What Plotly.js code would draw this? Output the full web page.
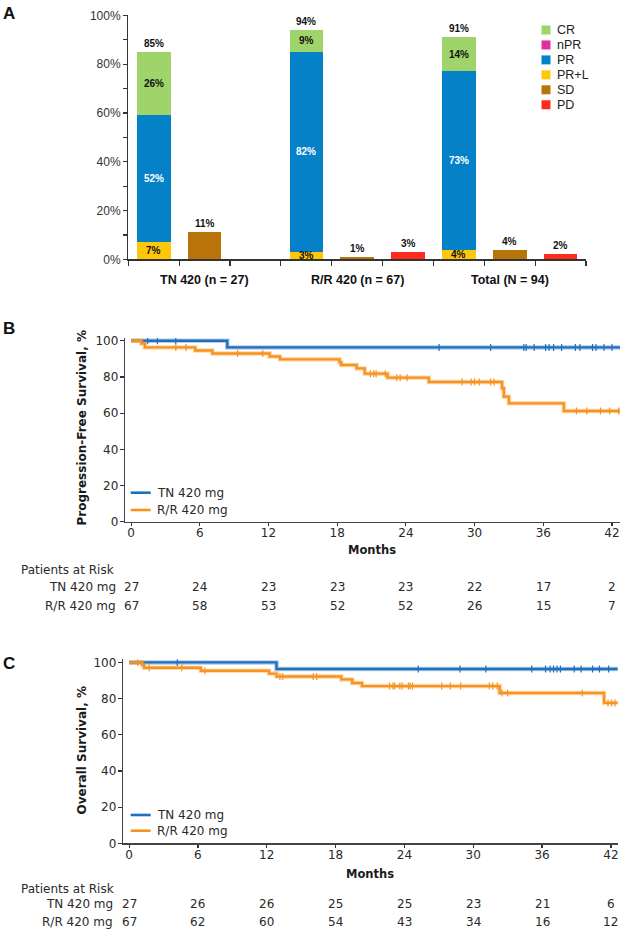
<!DOCTYPE html>
<html><head><meta charset="utf-8">
<script src="https://cdn.plot.ly/plotly-3.0.1.min.js"></script>
<style>html,body{margin:0;padding:0;background:#fff}#chart{width:623px;height:930px}</style>
</head><body><div id="chart"></div>
<script>
// ---------- Panel A data ----------
const groups = ['TN 420 (n = 27)', 'R/R 420 (n = 67)', 'Total (N = 94)'];
const crPct  = [26, 9, 14];
const nprPct = [0, 0, 0];
const prPct  = [52, 82, 73];
const prlPct = [7, 3, 4];
const sdPct  = [11, 1, 4];
const pdPct  = [0, 3, 2];
const orrPct = [85, 94, 91];
const pctTickVals = [0,10,20,30,40,50,60,70,80,90,100];
const pctTickText = ['0%','','20%','','40%','','60%','','80%','','100%'];

// ---------- Panel B data (PFS) ----------
const tnPfsT = [0, 8.4, 42.8];
const tnPfsS = [100, 96.3, 96.3];
const tnPfsCens = [1.45, 2.3, 3.9, 26.9, 31.4, 34.3, 34.5, 35.2, 36.2, 36.5, 36.9, 37.6, 38.8, 39.2, 40.3, 40.6, 41.3, 42.0];
const rrPfsT = [0, 0.9, 1.2, 5.6, 7.1, 12.1, 13.0, 18.2, 18.35, 19.7, 20.4, 22.4, 26.0, 32.4, 32.55, 33.0, 37.8, 42.8];
const rrPfsS = [100, 98.5, 96.3, 94.6, 92.9, 91.3, 89.7, 88.1, 86.6, 84.7, 81.8, 79.6, 77.2, 73.7, 69.1, 65.4, 61.2, 61.2];
const rrPfsCens = [3.9, 4.8, 9.3, 11.5, 20.9, 21.2, 21.4, 22.2, 23.2, 23.5, 24.1, 28.9, 29.7, 30.0, 30.4, 31.4, 31.7, 38.9, 39.8, 41.0, 41.8, 42.6];
const pfsRiskTN = [27, 24, 23, 23, 23, 22, 17, 2];
const pfsRiskRR = [67, 58, 53, 52, 52, 26, 15, 7];

// ---------- Panel C data (OS) ----------
const tnOsT = [0, 12.85, 42.6];
const tnOsS = [100, 96.3, 96.3];
const tnOsCens = [4.2, 25.2, 28.85, 31.1, 35.1, 36.3, 36.7, 37.0, 37.3, 37.6, 38.8, 39.4, 40.4, 41.0, 41.8];
const rrOsT = [0, 1.15, 1.3, 6.25, 12.2, 12.85, 18.5, 19.45, 20.3, 32.3, 41.4, 42.6];
const rrOsS = [100, 98.5, 97.0, 95.4, 93.8, 92.2, 90.6, 88.6, 86.9, 83.1, 77.6, 77.6];
const rrOsCens = [0.75, 1.75, 4.6, 6.6, 13.15, 13.4, 16.05, 16.35, 22.7, 23.0, 23.15, 23.6, 23.8, 24.35, 24.5, 24.7, 27.25, 28.0, 28.9, 31.4, 31.7, 32.1, 32.5, 33.0, 39.5, 41.75, 42.05, 42.35];
const osRiskTN = [27, 26, 26, 25, 25, 23, 21, 6];
const osRiskRR = [67, 62, 60, 54, 43, 34, 16, 12];

const monthTicks = [0, 6, 12, 18, 24, 30, 36, 42];
const survTicks = [0, 20, 40, 60, 80, 100];
const seriesNames = ['TN 420 mg', 'R/R 420 mg'];

// ---------- styling ----------
const W = 623, H = 930;
const px = x => x / W;
const py = y => 1 - y / H;
const ARIAL = 'Arial, "Liberation Sans", sans-serif';
const GOTH = '"DejaVu Sans", "Open Sans", sans-serif';
const colCR = '#9fd46a', colNPR = '#e0309e', colPR = '#0581c8', colPRL = '#fec70a', colSD = '#b8740a', colPD = '#ff2b1c';
const colTN = '#1f6fbd', colRR = '#f7931e';

const traces = [];
// Panel A: slot index per group
const stackX = groups.map((g, i) => 3 * i);
const sdX = groups.map((g, i) => 3 * i + 1);
const pdX = groups.map((g, i) => 3 * i + 2);
const barW = 0.66;
function bar(name, x, y, color) {
  return {type: 'bar', name, x, y, width: barW, marker: {color, line: {width: 0}},
          xaxis: 'x', yaxis: 'y', showlegend: false, hoverinfo: 'skip'};
}
traces.push(bar('PR+L', stackX, prlPct, colPRL));
traces.push(bar('PR', stackX, prPct, colPR));
traces.push(bar('nPR', stackX, nprPct, colNPR));
traces.push(bar('CR', stackX, crPct, colCR));
traces.push(bar('SD', sdX, sdPct, colSD));
traces.push(bar('PD', pdX, pdPct, colPD));

// KM helpers
function stepAt(T, S, t) { let v = S[0]; for (let i = 0; i < T.length; i++) { if (T[i] <= t) v = S[i]; } return v; }
function km(T, S, cens, color, xa, ya) {
  return [
    {type: 'scatter', mode: 'lines', x: T, y: S, line: {shape: 'hv', color, width: 4.5}, opacity: 0.35,
     xaxis: xa, yaxis: ya, showlegend: false, hoverinfo: 'skip'},
    {type: 'scatter', mode: 'lines', x: T, y: S, line: {shape: 'hv', color, width: 2.4},
     xaxis: xa, yaxis: ya, showlegend: false, hoverinfo: 'skip'},
    {type: 'scatter', mode: 'markers', x: cens, y: cens.map(t => stepAt(T, S, t)),
     marker: {symbol: 'line-ns-open', size: 5, color, line: {color, width: 1.2}},
     xaxis: xa, yaxis: ya, showlegend: false, hoverinfo: 'skip'}
  ];
}
traces.push(...km(tnPfsT, tnPfsS, tnPfsCens, colTN, 'x2', 'y2'));
traces.push(...km(rrPfsT, rrPfsS, rrPfsCens, colRR, 'x2', 'y2'));
traces.push(...km(tnOsT, tnOsS, tnOsCens, colTN, 'x3', 'y3'));
traces.push(...km(rrOsT, rrOsS, rrOsCens, colRR, 'x3', 'y3'));

// ---------- annotations ----------
const ann = [];
const shapes = [];
// Panel letters
[['A', 13], ['B', 328], ['C', 663]].forEach(([t, y]) => ann.push({text: '<b>' + t + '</b>', xref: 'paper', yref: 'paper', x: px(9), y: py(y), xanchor: 'center', yanchor: 'middle', showarrow: false, font: {family: ARIAL, size: 17, color: '#111'}}));

// Panel A bar labels
const lblFont = c => ({family: ARIAL, size: 10, color: c});
groups.forEach((g, i) => {
  const segs = [[prlPct[i], '#111'], [prPct[i], '#fff'], [nprPct[i], '#fff'], [crPct[i], '#111']];
  let base = 0;
  segs.forEach(([v, c]) => {
    if (v > 0) ann.push({text: '<b>' + v + '%</b>', x: stackX[i], y: base + v / 2, xref: 'x', yref: 'y', showarrow: false, yanchor: 'middle', font: lblFont(c)});
    base += v;
  });
  ann.push({text: '<b>' + orrPct[i] + '%</b>', x: stackX[i], y: orrPct[i], xref: 'x', yref: 'y', showarrow: false, yanchor: 'bottom', yshift: 1, font: lblFont('#111')});
  if (sdPct[i] > 0) ann.push({text: '<b>' + sdPct[i] + '%</b>', x: sdX[i], y: sdPct[i], xref: 'x', yref: 'y', showarrow: false, yanchor: 'bottom', yshift: 1, font: lblFont('#111')});
  if (pdPct[i] > 0) ann.push({text: '<b>' + pdPct[i] + '%</b>', x: pdX[i], y: pdPct[i], xref: 'x', yref: 'y', showarrow: false, yanchor: 'bottom', yshift: 1, font: lblFont('#111')});
  ann.push({text: '<b>' + g + '</b>', x: sdX[i], y: py(279.5), xref: 'x', yref: 'paper', showarrow: false, yanchor: 'middle', font: {family: ARIAL, size: 12.5, color: '#111'}});
});
// Panel A legend
const legItems = [['CR', colCR], ['nPR', colNPR], ['PR', colPR], ['PR+L', colPRL], ['SD', colSD], ['PD', colPD]];
legItems.forEach(([n, c], k) => {
  const yc = 30 + 14.95 * k;
  shapes.push({type: 'rect', xref: 'paper', yref: 'paper', x0: px(541.5), x1: px(550.5), y0: py(yc + 4.5), y1: py(yc - 4.5), fillcolor: c, line: {width: 0}});
  ann.push({text: n, xref: 'paper', yref: 'paper', x: px(555.5), y: py(yc), xanchor: 'left', yanchor: 'middle', showarrow: false, borderpad: 0, font: {family: ARIAL, size: 12.5, color: '#222'}});
});

// KM panel annotations
const kmFont = {family: GOTH, size: 12, color: '#2a2a2a'};
function kmAnn(xa, ytitle, titleY, monthsY, monthsX, legY, riskHeadY, riskRowsY, riskLabelX, riskTN, riskRR) {
  ann.push({text: '<b>' + ytitle + '</b>', xref: 'paper', yref: 'paper', x: px(81.5), y: py(titleY), textangle: -90, showarrow: false, xanchor: 'center', yanchor: 'middle', borderpad: 0, font: {family: GOTH, size: 12, color: '#1a1a1a'}});
  ann.push({text: '<b>Months</b>', xref: 'paper', yref: 'paper', x: px(monthsX), y: py(monthsY), showarrow: false, xanchor: 'center', yanchor: 'middle', borderpad: 0, font: {family: GOTH, size: 11.5, color: '#1a1a1a'}});
  seriesNames.forEach((n, k) => {
    const c = k === 0 ? colTN : colRR;
    shapes.push({type: 'line', xref: 'paper', yref: 'paper', x0: px(130.7), x1: px(150.7), y0: py(legY[k]), y1: py(legY[k]), line: {color: c, width: 2.6}});
    ann.push({text: n, xref: 'paper', yref: 'paper', x: px(155.5), y: py(legY[k]), xanchor: 'left', yanchor: 'middle', showarrow: false, borderpad: 0, font: kmFont});
  });
  ann.push({text: 'Patients at Risk', xref: 'paper', yref: 'paper', x: px(19.5), y: py(riskHeadY), xanchor: 'left', yanchor: 'middle', showarrow: false, borderpad: 0, font: kmFont});
  [riskTN, riskRR].forEach((row, k) => {
    ann.push({text: seriesNames[k], xref: 'paper', yref: 'paper', x: px(riskLabelX), y: py(riskRowsY[k]), xanchor: 'right', yanchor: 'middle', showarrow: false, borderpad: 0, font: kmFont});
    row.forEach((v, j) => ann.push({text: String(v), xref: xa, yref: 'paper', x: monthTicks[j], y: py(riskRowsY[k]), xanchor: 'center', yanchor: 'middle', showarrow: false, borderpad: 0, font: kmFont}));
  });
}
kmAnn('x2', 'Progression-Free Survival, %', 428, 550, 372, [492.7, 510], 569.5, [587, 605.5], 116.5, pfsRiskTN, pfsRiskRR);
kmAnn('x3', 'Overall Survival, %', 751, 874.3, 370, [815, 830.7], 888.7, [904.3, 921.7], 114, osRiskTN, osRiskRR);

// ---------- axes ----------
const axBase = {showline: true, linecolor: '#333', linewidth: 1.3, ticks: 'outside', tickcolor: '#333', tickwidth: 1.2, showgrid: false, zeroline: false, fixedrange: true};
const kmX = (dom, rng, anchor) => Object.assign({}, axBase, {domain: dom, range: rng, anchor, tickvals: monthTicks, ticklen: 3, ticklabelstandoff: -3, tickfont: kmFont, linecolor: '#444'});
const kmY = (dom, rng, anchor) => Object.assign({}, axBase, {domain: dom, range: rng, anchor, tickvals: survTicks, ticklen: 4, ticklabelstandoff: -1, tickfont: kmFont, linecolor: '#444'});
const slotEdges = [-0.5, 0.5, 1.5, 2.5, 3.5, 4.5, 5.5, 6.5, 7.5, 8.5];

const layout = {
  width: W, height: H, margin: {l: 0, r: 0, t: 0, b: 0}, paper_bgcolor: '#fff', plot_bgcolor: 'rgba(0,0,0,0)',
  barmode: 'stack', showlegend: false,
  xaxis: Object.assign({}, axBase, {domain: [px(128.3), px(586)], range: [-0.5, 8.5], anchor: 'y', tickvals: slotEdges, ticktext: slotEdges.map(() => ''), ticklen: 5}),
  yaxis: Object.assign({}, axBase, {domain: [py(259.3), py(15.3)], range: [0, 100], anchor: 'x', tickvals: pctTickVals, ticktext: pctTickText, ticklen: 4, tickfont: {family: ARIAL, size: 12, color: '#333'}}),
  xaxis2: kmX([px(125), px(620)], [-0.533, 42.7], 'y2'),
  yaxis2: kmY([py(521.7), py(338)], [0, 101.5], 'x2'),
  xaxis3: kmX([px(123), px(617.8)], [-0.532, 42.6], 'y3'),
  yaxis3: kmY([py(843.3), py(659.3)], [0, 101.7], 'x3'),
  annotations: ann, shapes: shapes
};
Plotly.newPlot('chart', traces, layout, {staticPlot: true, displayModeBar: false});
</script>
</body></html>
